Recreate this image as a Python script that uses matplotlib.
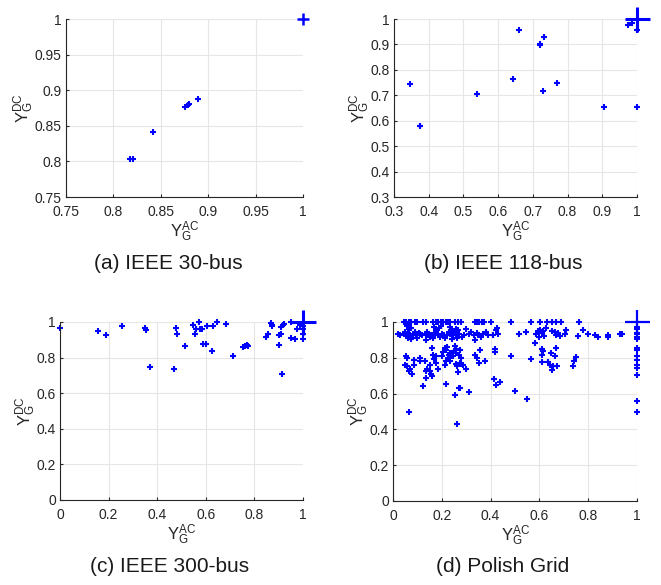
import matplotlib.pyplot as plt

plt.rcParams['font.family'] = ['Liberation Sans', 'DejaVu Sans']
plt.rcParams['mathtext.fontset'] = 'custom'
plt.rcParams['mathtext.rm'] = 'Liberation Sans'
plt.rcParams['mathtext.it'] = 'Liberation Sans'

# (a) IEEE 30-bus
a_ac = [0.818, 0.821, 0.842, 0.876, 0.879, 0.880, 0.889]
a_dc = [0.804, 0.804, 0.842, 0.876, 0.879, 0.880, 0.888]

# (b) IEEE 118-bus
b_ac = [0.347, 0.376, 0.375, 0.539, 0.642, 0.660, 0.720, 0.722, 0.732, 0.728,
        0.770, 0.906, 1.0, 0.975, 0.985, 1.0]
b_dc = [0.744, 0.578, 0.580, 0.705, 0.765, 0.957, 0.899, 0.900, 0.928, 0.718,
        0.749, 0.655, 0.655, 0.975, 0.983, 0.957]

# (c) IEEE 300-bus
c_ac = [0.0, 0.155, 0.188, 0.254, 0.350, 0.353, 0.371, 0.471, 0.479, 0.481,
        0.515, 0.549, 0.554, 0.559, 0.573, 0.578, 0.585, 0.587, 0.599, 0.603,
        0.625, 0.629, 0.646, 0.684, 0.712, 0.754, 0.762, 0.768, 0.773, 0.849,
        0.854, 0.869, 0.871, 0.874, 0.900, 0.902, 0.909, 0.913, 0.911, 0.916,
        0.922, 0.949, 0.949, 0.966, 0.974, 0.988, 1.0, 1.0, 1.0, 1.0]
c_dc = [0.966, 0.948, 0.929, 0.976, 0.966, 0.955, 0.746, 0.738, 0.966, 0.931,
        0.865, 0.985, 0.931, 0.963, 1.0, 0.963, 0.963, 0.879, 0.879, 0.976,
        0.836, 0.976, 1.0, 0.989, 0.811, 0.860, 0.865, 0.869, 0.867, 0.914,
        0.931, 0.993, 0.978, 0.981, 0.869, 0.925, 0.931, 0.710, 0.970, 0.981,
        0.989, 1.0, 0.910, 0.906, 0.963, 0.985, 0.935, 0.906, 0.963, 0.980]

# (d) Polish Grid
d_ac = [
    # row near 1.0
    0.044, 0.055, 0.066, 0.075, 0.089, 0.098, 0.123, 0.137, 0.164, 0.175,
    0.184, 0.195, 0.205, 0.216, 0.225, 0.235, 0.253, 0.266, 0.277, 0.335,
    0.343, 0.352, 0.366, 0.373, 0.403, 0.485, 0.564, 0.604, 0.631, 0.652,
    0.669, 0.690, 0.762,
    # 0.95-0.98
    0.058, 0.064, 0.072, 0.168, 0.178, 0.190, 0.198, 0.258, 0.268, 0.428,
    0.420, 0.300, 0.232, 0.240,
    # dense band near 0.93
    0.020, 0.030, 0.045, 0.055, 0.065, 0.080, 0.095, 0.110, 0.120, 0.135,
    0.150, 0.160, 0.170, 0.185, 0.200, 0.210, 0.220, 0.235, 0.245, 0.260,
    0.270, 0.290, 0.310, 0.330, 0.350, 0.370, 0.390, 0.410, 0.430, 0.516,
    0.544, 0.710, 0.705, 0.760, 0.778, 0.800, 0.826, 0.840, 0.880, 0.880,
    0.930, 0.940,
    0.050, 0.062, 0.070, 0.088, 0.105, 0.140, 0.158, 0.176, 0.192, 0.228,
    0.250, 0.283, 0.320, 0.345, 0.362, 0.380,
    # 0.90-0.92
    0.061, 0.075, 0.100, 0.137, 0.150, 0.165, 0.215, 0.240, 0.262, 0.337,
    # right cluster 0.58-0.69
    0.582, 0.587, 0.594, 0.598, 0.604, 0.615, 0.626, 0.617, 0.652, 0.663,
    0.669, 0.676, 0.683, 0.610,
    # middle scatter
    0.052, 0.059, 0.049, 0.059, 0.068, 0.064, 0.079, 0.085, 0.087, 0.112,
    0.112, 0.133, 0.137, 0.141, 0.150, 0.153, 0.157, 0.160, 0.161, 0.164,
    0.167, 0.175, 0.178, 0.186, 0.202, 0.205, 0.212, 0.219, 0.221, 0.214,
    0.219, 0.225, 0.230, 0.235, 0.239, 0.246, 0.249, 0.253, 0.257, 0.260,
    0.269, 0.273, 0.277, 0.260, 0.264, 0.266, 0.273, 0.280, 0.287, 0.235,
    0.124, 0.137, 0.219, 0.254, 0.269, 0.275, 0.311, 0.064, 0.262, 0.301,
    0.337, 0.346, 0.351, 0.358, 0.377, 0.414, 0.424, 0.440, 0.419, 0.417,
    0.482, 0.501, 0.551, 0.564, 0.609, 0.612, 0.615, 0.612, 0.635, 0.642,
    0.646, 0.650, 0.656, 0.665, 0.669, 0.672, 0.738, 0.740, 0.751,
    # column at 1.0
    1.0, 1.0, 1.0, 1.0, 1.0, 1.0, 1.0, 1.0, 1.0, 1.0, 1.0, 1.0, 1.0, 1.0,
    1.0,
]
d_dc = [
    1.0, 1.0, 1.0, 1.0, 1.0, 1.0, 1.0, 1.0, 1.0, 1.0,
    1.0, 1.0, 1.0, 1.0, 1.0, 1.0, 1.0, 1.0, 1.0, 1.0,
    1.0, 1.0, 1.0, 1.0, 1.0, 1.0, 1.0, 1.0, 1.0, 1.0,
    1.0, 1.0, 1.0,
    0.975, 0.960, 0.968, 0.972, 0.958, 0.965, 0.975, 0.962, 0.955, 0.966,
    0.958, 0.962, 0.970, 0.955,
    0.933, 0.930, 0.935, 0.928, 0.933, 0.930, 0.925, 0.933, 0.928, 0.935,
    0.930, 0.925, 0.933, 0.928, 0.935, 0.930, 0.925, 0.933, 0.930, 0.928,
    0.935, 0.930, 0.933, 0.928, 0.930, 0.935, 0.925, 0.930, 0.933, 0.931,
    0.944, 0.955, 0.935, 0.920, 0.955, 0.931, 0.930, 0.918, 0.930, 0.918,
    0.931, 0.931,
    0.945, 0.940, 0.920, 0.945, 0.940, 0.942, 0.920, 0.945, 0.918, 0.945,
    0.940, 0.918, 0.942, 0.940, 0.918, 0.945,
    0.910, 0.905, 0.912, 0.901, 0.915, 0.908, 0.912, 0.905, 0.910, 0.901,
    0.882, 0.933, 0.951, 0.914, 0.957, 0.948, 0.966, 0.920, 0.951, 0.944,
    0.929, 0.938, 0.920, 0.940,
    0.808, 0.799, 0.761, 0.752, 0.739, 0.728, 0.709, 0.787, 0.761, 0.799,
    0.784, 0.780, 0.724, 0.739, 0.728, 0.761, 0.711, 0.696, 0.854, 0.817,
    0.795, 0.811, 0.771, 0.739, 0.808, 0.832, 0.854, 0.845, 0.858, 0.761,
    0.780, 0.799, 0.817, 0.825, 0.808, 0.811, 0.836, 0.864, 0.851, 0.827,
    0.817, 0.845, 0.799, 0.765, 0.752, 0.720, 0.771, 0.767, 0.761, 0.780,
    0.640, 0.687, 0.653, 0.593, 0.634, 0.631, 0.608, 0.496, 0.431, 0.739,
    0.813, 0.799, 0.771, 0.845, 0.784, 0.683, 0.649, 0.664, 0.851, 0.832,
    0.811, 0.612, 0.571, 0.795, 0.817, 0.851, 0.836, 0.774, 0.774, 0.761,
    0.826, 0.733, 0.752, 0.808, 0.854, 0.752, 0.756, 0.780, 0.802,
    0.970, 0.959, 0.940, 0.931, 0.918, 0.905, 0.854, 0.845, 0.808, 0.789,
    0.761, 0.743, 0.705, 0.560, 0.496,
]

captions = ['(a) IEEE 30-bus', '(b) IEEE 118-bus', '(c) IEEE 300-bus', '(d) Polish Grid']

fig = plt.figure(figsize=(6.61, 5.85), dpi=100)

panels = [
    (a_ac, a_dc, [0.0998, 0.6632, 0.3586, 0.3043], (0.75, 1), [0.75, 0.8, 0.85, 0.9, 0.95, 1],
     [0.75, 0.8, 0.85, 0.9, 0.95, 1], 9, 1.8, (0.254, 0.533)),
    (b_ac, b_dc, [0.596, 0.6632, 0.3676, 0.3043], (0.3, 1), [0.3, 0.4, 0.5, 0.6, 0.7, 0.8, 0.9, 1],
     [0.3, 0.4, 0.5, 0.6, 0.7, 0.8, 0.9, 1], 18, 2.2, (0.761, 0.533)),
    (c_ac, c_dc, [0.0908, 0.1453, 0.3676, 0.3043], (0, 1), [0, 0.2, 0.4, 0.6, 0.8, 1],
     [0, 0.2, 0.4, 0.6, 0.8, 1], 18, 2.2, (0.256, 0.015)),
    (d_ac, d_dc, [0.5946, 0.1436, 0.3691, 0.3060], (0, 1), [0, 0.2, 0.4, 0.6, 0.8, 1],
     [0, 0.2, 0.4, 0.6, 0.8, 1], 18, 1.6, (0.761, 0.015)),
]

for (xs, ys, rect, lim, xt, yt, big_ms, big_mew, cap_pos), cap in zip(panels, captions):
    ax = fig.add_axes(rect)
    ax.plot(xs, ys, linestyle='none', marker='+', color='#0000ff', ms=5, mew=1.5, clip_on=False)
    ax.plot([1], [1], linestyle='none', marker='+', color='#0000ff', ms=big_ms, mew=big_mew, clip_on=False)
    ax.set_xlim(lim)
    ax.set_ylim(lim)
    ax.set_xticks(xt)
    ax.set_yticks(yt)
    ax.set_xticklabels([f'{v:g}' for v in xt])
    ax.set_yticklabels([f'{v:g}' for v in yt])
    ax.grid(True, color='#e6e6e6', linewidth=0.8)
    ax.set_axisbelow(True)
    for s in ['top', 'right']:
        ax.spines[s].set_visible(False)
    for s in ['left', 'bottom']:
        ax.spines[s].set_color('#262626')
        ax.spines[s].set_linewidth(0.8)
    ax.tick_params(direction='in', length=2, colors='#262626', labelsize=10)
    ax.tick_params(axis='x', pad=6)
    ax.tick_params(axis='y', pad=3)
    ax.set_xlabel(r'$\mathrm{Y}^{\mathrm{AC}}_{\mathrm{G}}$', fontsize=12, color='#262626', labelpad=0)
    ax.set_ylabel(r'$\mathrm{Y}^{\mathrm{DC}}_{\mathrm{G}}$', fontsize=12, color='#262626', labelpad=-1)
    fig.text(cap_pos[0], cap_pos[1], cap, ha='center', va='bottom', fontsize=15, color='#1a1a1a')

fig.savefig('out.png', dpi=100)
